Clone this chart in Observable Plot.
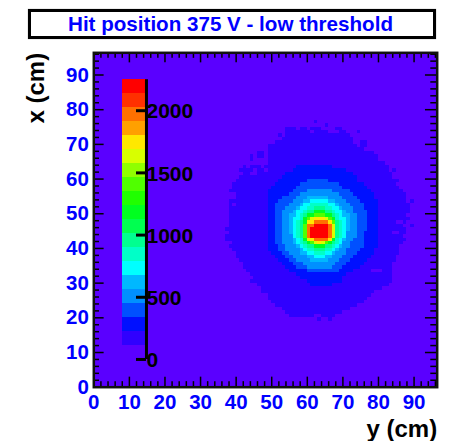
<!DOCTYPE html>
<html>
<head>
<meta charset="utf-8">
<script src="https://cdn.jsdelivr.net/npm/d3@7"></script>
<script src="https://cdn.jsdelivr.net/npm/@observablehq/plot@0.6"></script>
<style>
html,body{margin:0;padding:0;background:#fff}
#wrap{position:relative;width:450px;height:441px;overflow:hidden}
#wrap svg{position:absolute;left:0;top:0;background:#fff}
#ttl{position:absolute;left:28px;top:9px;width:402px;height:24px;border:3px solid #000;background:#fff;color:#0000ff;
font:bold 20.6px "Liberation Sans",Arial,sans-serif;line-height:24px;text-align:center;text-indent:-3px;white-space:nowrap;box-shadow:0 0 1px #888}
</style>
</head>
<body>
<div id="wrap"><div id="ttl">Hit position 375 V - low threshold</div></div>
<script>
const titleText = "Hit position 375 V - low threshold";
const xAxisLabel = "y (cm)";
const yAxisLabel = "x (cm)";
const majorTicks = [0,10,20,30,40,50,60,70,80,90];
const minorTicks = [2,4,6,8,12,14,16,18,22,24,26,28,32,34,36,38,42,44,46,48,52,54,56,58,62,64,66,68,72,74,76,78,82,84,86,88,92,94,96];
const zTicks = [0,500,1000,1500,2000];
const zStep = 112.4;
const palette = ["#5a00ff","#3000ff","#0010ff","#0050ff","#0090ff","#00b8ff","#00ffff","#00ffc8","#00ff90","#00ff50",
                 "#00ff20","#20ff00","#50ff00","#90ff00","#d8ff00","#ffe800","#ffa000","#ff7000","#ff3000","#ff0000"];

// Each row: [x bin, first y bin, last y bin] per colour level
const level1 = [[76,62,62],[75,65,65],[74,54,56],[74,58,59],[74,61,63],[74,68,69],[73,54,60],[73,62,65],[73,69,70],[73,74,74],
[72,52,52],[72,54,71],[71,53,72],[70,51,72],[70,75,76],[69,49,73],[69,75,76],[68,49,75],[67,46,47],[67,49,78],[66,44,44],[66,46,47],[66,49,79],
[65,44,44],[65,49,79],[64,49,79],[64,80,81],[63,42,42],[63,44,46],[63,48,82],[62,41,44],[62,46,47],[62,49,82],[62,84,84],[61,42,43],[61,46,83],
[60,41,83],[59,40,83],[59,84,85],[58,39,84],[57,39,85],[56,38,86],[55,40,87],[54,40,87],[53,38,87],[53,89,89],[52,38,38],[52,40,88],[51,38,88],[50,38,88],[49,38,87],[48,38,88],
[47,38,84],[47,87,87],[46,38,86],[46,89,89],[45,37,87],[44,38,83],[44,86,87],[43,37,86],[42,37,87],[41,39,86],[40,38,85],[39,39,85],[38,40,85],[37,40,84],[36,41,84],
[35,42,83],[34,42,83],[33,43,77],[33,81,83],[32,44,83],[31,45,83],[30,44,83],[29,46,82],[28,47,80],[27,47,78],[26,49,77],[25,49,76],[24,50,75],[23,51,73],[22,53,71],[21,54,69],[20,55,61],[20,64,67],[19,63,63],[19,66,66]];
const level2 = [[63,57,66],[62,56,70],[61,54,72],[60,53,73],[59,52,73],[58,51,75],[57,50,76],[56,49,77],[55,49,78],[54,49,78],[53,49,79],[52,49,79],[51,49,79],[50,49,79],[49,49,79],[48,49,79],
[47,49,79],[46,49,79],[45,49,79],[44,49,79],[43,49,79],[42,49,79],[41,49,79],[40,49,79],[39,49,78],[38,50,78],[37,51,77],[36,52,76],[35,53,75],[34,54,74],[33,55,72],[32,57,70],[31,58,69],[30,60,69],[29,61,66]];
const level3 = [[59,60,65],[58,58,68],[57,57,69],[56,56,71],[55,55,72],[54,53,73],[53,52,74],[52,51,75],[51,51,75],[50,51,76],[49,51,76],[48,51,76],
[47,51,76],[46,51,76],[45,51,76],[44,51,75],[43,51,75],[42,51,75],[41,51,75],[40,52,75],[39,52,74],[38,53,73],[37,54,72],[36,55,71],[35,56,70],[34,57,69],[33,60,68]];
const level4 = [[56,60,66],[55,58,68],[54,57,69],[53,56,70],[52,55,71],[51,54,72],[50,53,72],[49,53,73],[48,53,73],[47,53,73],[46,53,73],[45,53,73],[44,53,73],[43,53,73],
[42,53,72],[41,53,71],[40,54,71],[39,54,70],[38,55,70],[37,56,69],[36,57,68],[35,59,67],[34,60,66]];
const level5 = [[54,60,65],[53,59,67],[52,58,68],[51,57,69],[50,56,70],[49,55,71],[48,55,71],[47,55,71],[46,55,71],[45,55,71],[44,55,70],[43,56,70],[42,56,70],[41,56,69],[40,57,69],[39,58,68],[38,58,67],[37,60,66],[36,61,65]];
const level6 = [[53,61,65],[52,59,67],[51,58,68],[50,57,69],[49,57,69],[48,56,70],[47,56,70],[46,56,70],[45,56,70],[44,56,70],[43,56,70],[42,57,69],[41,57,69],[40,58,68],[39,59,67],[38,60,66],[37,62,64]];
const level7 = [[52,61,65],[51,60,66],[50,59,67],[49,58,68],[48,58,68],[47,57,69],[46,57,69],[45,57,69],[44,57,69],[43,57,69],[42,58,68],[41,58,68],[40,59,67],[39,60,66],[38,62,64]];
const level8 = [[51,62,64],[50,60,66],[49,59,67],[48,59,67],[47,58,68],[46,58,68],[45,58,68],[44,58,68],[43,58,68],[42,59,67],[41,59,67],[40,60,66],[39,62,64]];
const level10 = [[50,62,64],[49,60,66],[48,59,67],[47,59,67],[46,59,67],[45,59,67],[44,59,67],[43,59,67],[42,59,67],[41,60,66],[40,62,64]];
const level12 = [[49,62,64],[48,60,66],[47,60,67],[46,59,67],[45,59,67],[44,59,67],[43,59,67],[42,60,66],[41,61,65]];
const level14 = [[48,61,65],[47,60,66],[46,60,67],[45,60,67],[44,60,67],[43,60,67],[42,60,66],[41,62,64]];
const level15 = [[48,62,64],[47,60,66],[46,60,66],[45,60,66],[44,60,66],[43,60,66],[42,61,66],[41,63,63]];
const level17 = [[47,62,65],[46,60,66],[45,60,66],[44,60,66],[43,60,66],[42,62,65]];
const level19 = [[46,62,65],[45,61,65],[44,61,65],[43,61,65]];

const levelSpans = [[1,level1],[2,level2],[3,level3],[4,level4],[5,level5],[6,level6],[7,level7],[8,level8],[10,level10],[12,level12],[14,level14],[15,level15],[17,level17],[19,level19]];

// Later (higher) levels overwrite the lower ones in each bin
const grid = new Map();
for (const [lvl, spans] of levelSpans)
  for (const [x, a, b] of spans)
    for (const y of d3.range(a, b + 1)) grid.set(x + "," + y, {x, y, z: (lvl + 0.5) * zStep});
const cells = [...grid.values()];

const zBreaks = d3.range(1, palette.length).map(k => k * zStep);
const barLevels = d3.range(palette.length);
const barX = [8.2, 14.8];
const barY = [8.0, 88.6];
const zToY = z => barY[0] + z * (barY[1] - barY[0]) / (zStep * palette.length);

const font = '"Liberation Sans",Arial,sans-serif';
const chart = Plot.plot({
  width: 450, height: 441,
  marginLeft: 93.3, marginRight: 13.3, marginTop: 52.3, marginBottom: 54.3,
  style: {fontFamily: font, background: "#fff"},
  x: {domain: [0, 96.5], axis: null},
  y: {domain: [0, 96.4], axis: null},
  color: {type: "threshold", domain: zBreaks, range: palette},
  marks: [
    Plot.frame({fill: palette[0], stroke: null}),
    Plot.rect(cells, {x1: "y", x2: d => d.y + 1, y1: "x", y2: d => d.x + 1, fill: "z", shapeRendering: "crispEdges"}),
    // colour bar
    Plot.rect(barLevels, {x1: barX[0], x2: barX[1], y1: k => zToY(k * zStep), y2: k => zToY((k + 1) * zStep), fill: k => (k + 0.5) * zStep, shapeRendering: "crispEdges"}),
    Plot.ruleX([barX[1]], {y1: barY[0], y2: barY[1], stroke: "#000", strokeWidth: 3}),
    Plot.ruleY(zTicks, {y: zToY, x1: 12.0, x2: barX[1], stroke: "#000", strokeWidth: 3}),
    Plot.text(zTicks, {x: barX[1], y: zToY, text: d => String(d), textAnchor: "start", dx: 0, dy: 1, fontSize: 21, fontWeight: "bold", fill: "#000", fontFamily: font}),
    // inward ticks on all four sides
    Plot.ruleX(majorTicks, {y1: 0, y2: 2.9, stroke: "#000", strokeWidth: 1.5}),
    Plot.ruleX(minorTicks, {y1: 0, y2: 1.6, stroke: "#000", strokeWidth: 1.5}),
    Plot.ruleX(majorTicks, {y1: 93.5, y2: 96.4, stroke: "#000", strokeWidth: 1.5}),
    Plot.ruleX(minorTicks, {y1: 94.8, y2: 96.4, stroke: "#000", strokeWidth: 1.5}),
    Plot.ruleY(majorTicks, {x1: 0, x2: 2.9, stroke: "#000", strokeWidth: 1.5}),
    Plot.ruleY(minorTicks, {x1: 0, x2: 1.6, stroke: "#000", strokeWidth: 1.5}),
    Plot.ruleY(majorTicks, {x1: 93.2, x2: 96.5, stroke: "#000", strokeWidth: 1.5}),
    Plot.ruleY(minorTicks, {x1: 94.7, x2: 96.5, stroke: "#000", strokeWidth: 1.5}),
    Plot.frame({stroke: "#111", strokeWidth: 2.5, fill: null}),
    // axes
    Plot.axisX({ticks: majorTicks, tickSize: 0, tickPadding: 7, label: null, color: "#0000ff", fontSize: 20.5, fontWeight: "bold", fontFamily: font}),
    Plot.axisY({ticks: majorTicks, tickSize: 0, tickPadding: 5, label: null, color: "#0000ff", fontSize: 20.5, fontWeight: "bold", fontFamily: font}),
    Plot.text([xAxisLabel], {frameAnchor: "bottom-right", text: d => d, textAnchor: "end", lineAnchor: "middle", dy: 42, fontSize: 24, fontWeight: "bold", fill: "#000", fontFamily: font}),
    Plot.text([yAxisLabel], {frameAnchor: "top-left", text: d => d, rotate: -90, textAnchor: "end", lineAnchor: "middle", dx: -57, fontSize: 24, fontWeight: "bold", fill: "#000", fontFamily: font})
  ]
});
document.getElementById("wrap").prepend(chart);
document.getElementById("ttl").textContent = titleText;
</script>
</body>
</html>
